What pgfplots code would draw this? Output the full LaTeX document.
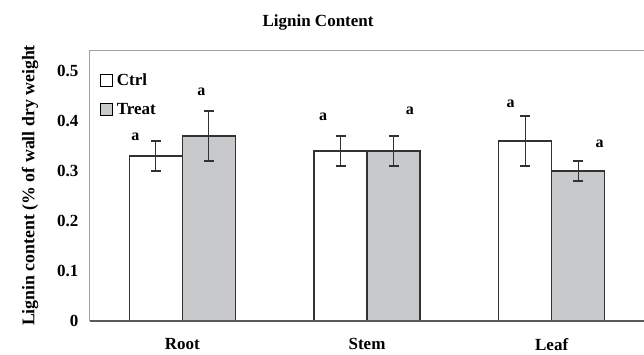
\documentclass[border=0pt]{standalone}
\usepackage{pgfplots}
\pgfplotsset{compat=1.18}
\usepackage{fontspec}
\setmainfont{Liberation Serif}
\definecolor{barfill}{RGB}{200,201,203}
\definecolor{baredge}{RGB}{50,50,50}
\definecolor{framecol}{RGB}{160,160,160}
\begin{document}
\begin{tikzpicture}
\useasboundingbox (-90pt,-33pt) rectangle (554pt,321pt);
\begin{axis}[
  at={(0,0)}, anchor=south west,
  scale only axis, width=554pt, height=271pt,
  xmin=-0.5, xmax=2.5, ymin=0, ymax=0.542,
  ybar=0pt, bar width=53pt,
  xtick={0,1,2}, xticklabels={Root,Stem,Leaf},
  ytick={0,0.1,0.2,0.3,0.4,0.5},
  yticklabels={0,0.1,0.2,0.3,0.4,0.5},
  major tick length=0pt,
  axis line style={draw=none},
  /pgf/number format/assume math mode=true,
  ticklabel style={font=\fontsize{17}{20}\selectfont\bfseries},
  yticklabel style={xshift=-8pt},
  xticklabel style={yshift=-14pt},
  ylabel={Lignin content (\% of wall dry weight},
  ylabel style={at={(axis description cs:0,0.5)}, anchor=center, yshift=60pt, font=\fontsize{17.8}{20}\selectfont\bfseries},
  title={Lignin Content},
  title style={at={(axis description cs:0.4116,1)}, anchor=center, yshift=22pt, font=\fontsize{17}{20}\selectfont\bfseries},
  legend style={at={(axis description cs:0.018,0.92)}, anchor=north west, draw=none, fill=none,
     font=\fontsize{17}{20}\selectfont\bfseries, row sep=12pt, inner sep=0pt,
     /tikz/every odd column/.append style={column sep=2pt}},
  legend cell align=left,
  legend image code/.code={\draw[#1,draw=black,line width=0.7pt] (0pt,-6pt) rectangle (12pt,6pt);},
  clip=false,
]
\addplot[fill=white, draw=baredge, line width=1.1pt,
  error bars/.cd, y dir=both, y explicit, error bar style={baredge, line width=1.1pt},
  error mark options={rotate=90, mark size=5pt, line width=1.1pt}]
  coordinates {(0,0.33) +- (0,0.03) (1,0.34) +- (0,0.03) (2,0.36) +- (0,0.05)};
\addplot[fill=barfill, draw=baredge, line width=1.1pt,
  error bars/.cd, y dir=both, y explicit, error bar style={baredge, line width=1.1pt},
  error mark options={rotate=90, mark size=5pt, line width=1.1pt}]
  coordinates {(0,0.37) +- (0,0.05) (1,0.34) +- (0,0.03) (2,0.30) +- (0,0.02)};
\legend{Ctrl,Treat}
\draw[framecol, line width=1pt] (rel axis cs:0,0) -- (rel axis cs:0,1) -- (rel axis cs:1,1);
\draw[baredge!80, line width=1.2pt] (rel axis cs:0,0) -- (rel axis cs:1,0);
\begin{scope}[every node/.style={font=\fontsize{16}{19}\selectfont\bfseries}]
\node at (axis cs:-0.254,0.368) {a};
\node at (axis cs:0.103,0.458) {a};
\node at (axis cs:0.762,0.408) {a};
\node at (axis cs:1.232,0.42) {a};
\node at (axis cs:1.778,0.434) {a};
\node at (axis cs:2.259,0.354) {a};
\end{scope}
\end{axis}
\end{tikzpicture}
\end{document}
